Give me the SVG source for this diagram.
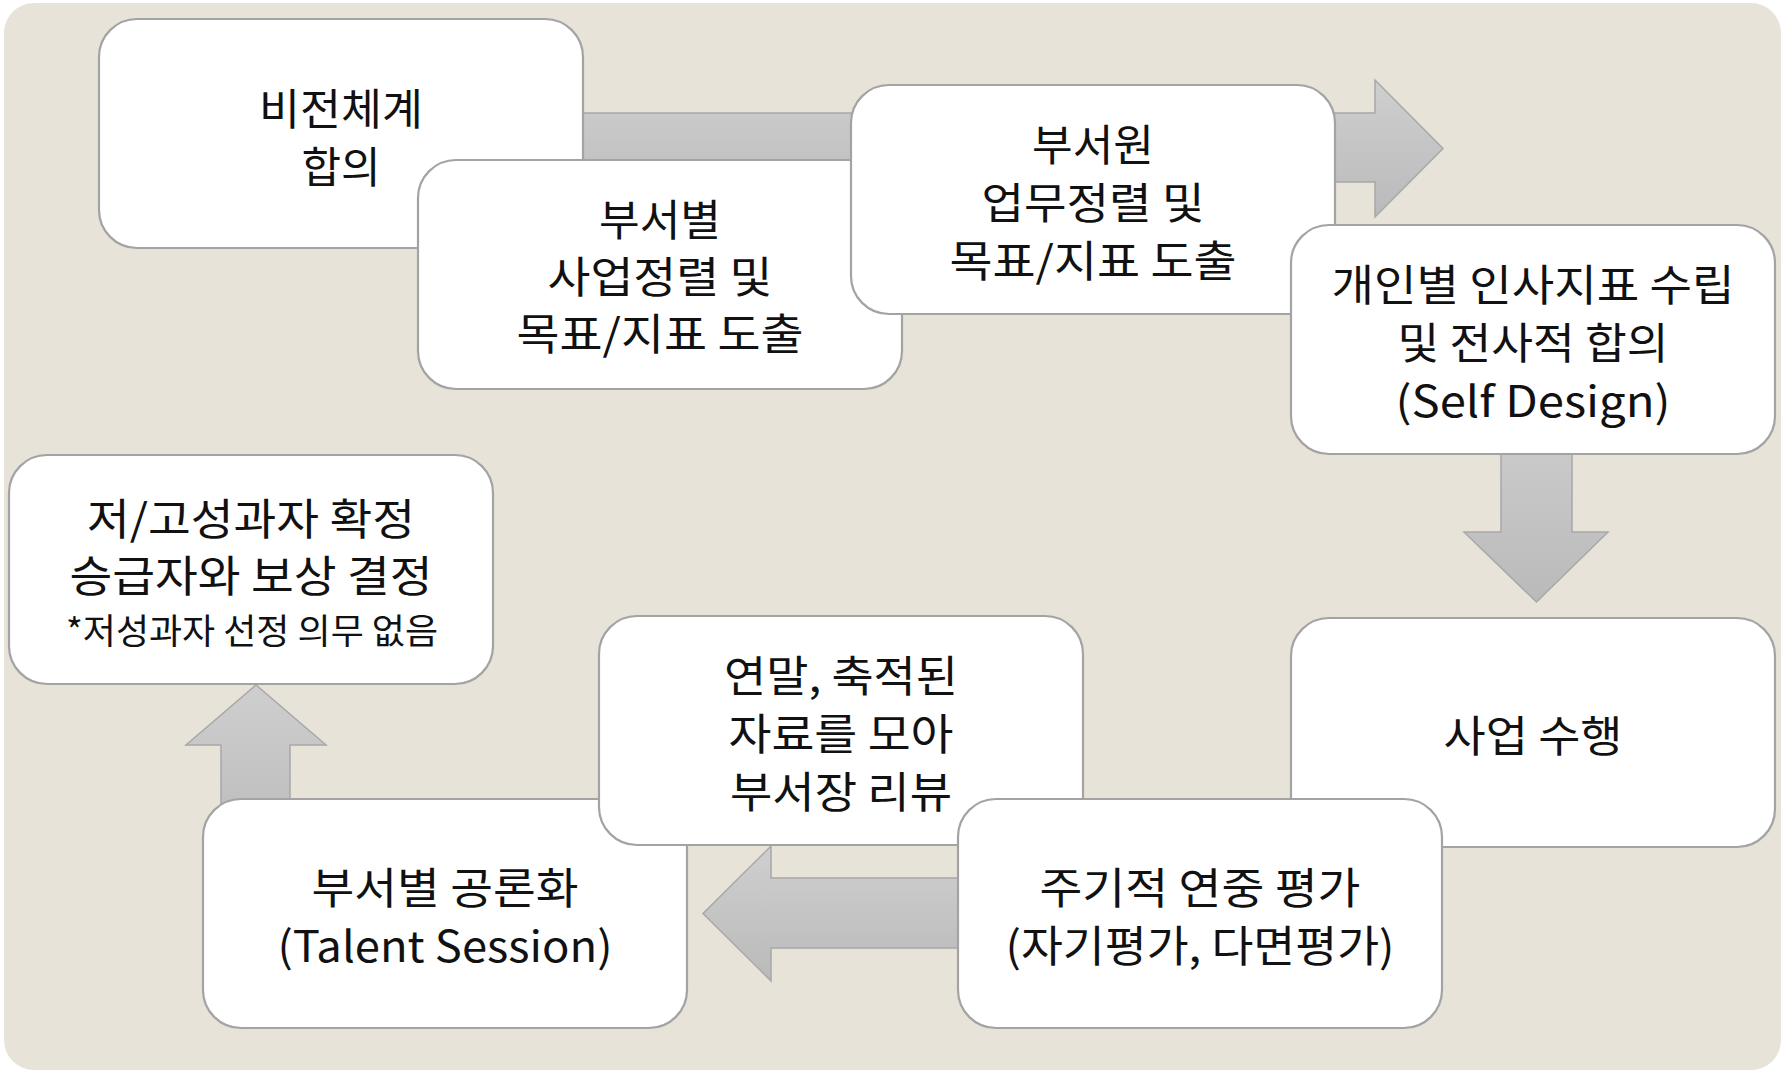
<svg xmlns="http://www.w3.org/2000/svg" width="1785" height="1071" viewBox="0 0 1785 1071">
<defs>
<linearGradient id="ag" x1="0" y1="0" x2="0" y2="1">
<stop offset="0" stop-color="#CFCFCF"/>
<stop offset="1" stop-color="#BABABA"/>
</linearGradient>
<style>
.bg{fill:#E7E3D8;}
.box{fill:#FFFFFF;stroke:#A3A3A3;stroke-width:2.2;}
.arr{fill:url(#ag);stroke:#A8A8A8;stroke-width:1.5;}
.t{font-family:"Noto Sans CJK KR","Noto Sans",sans-serif;font-size:43px;fill:#111111;text-anchor:middle;dominant-baseline:central;}
.s{font-size:35px;}
</style>
</defs>
<rect width="1785" height="1071" fill="#FFFFFF"/>
<rect class="bg" x="4" y="3" width="1777" height="1067" rx="30"/>
<g id="connectors">
<polygon class="arr" points="400,113 1375,113 1375,80 1443,148.5 1375,217 1375,182 400,182"/>
<polygon class="arr" points="1501,400 1572,400 1572,532 1608,532 1536.5,602 1464,532 1501,532"/>
<polygon class="arr" points="1000,878 771,878 771,846 703,913.5 771,981 771,948 1000,948"/>
<polygon class="arr" points="221,850 221,745 186,745 256,685 326,745 290,745 290,850"/>
</g>
<g id="n1">
<rect class="box" x="99" y="19" width="484" height="229" rx="38"/>
<text class="t" x="341" y="106" textLength="164" lengthAdjust="spacingAndGlyphs">비전체계</text>
<text class="t" x="341" y="164">합의</text>
</g>
<g id="n2">
<rect class="box" x="418" y="160" width="484" height="229" rx="38"/>
<text class="t" x="660" y="217" textLength="122" lengthAdjust="spacingAndGlyphs">부서별</text>
<text class="t" x="660" y="274" textLength="225" lengthAdjust="spacingAndGlyphs">사업정렬 및</text>
<text class="t" x="660" y="331" textLength="287" lengthAdjust="spacingAndGlyphs">목표/지표 도출</text>
</g>
<g id="n3">
<rect class="box" x="851" y="85" width="484" height="229" rx="38"/>
<text class="t" x="1093" y="142" textLength="122" lengthAdjust="spacingAndGlyphs">부서원</text>
<text class="t" x="1093" y="200" textLength="223" lengthAdjust="spacingAndGlyphs">업무정렬 및</text>
<text class="t" x="1093" y="258" textLength="287" lengthAdjust="spacingAndGlyphs">목표/지표 도출</text>
</g>
<g id="n4">
<rect class="box" x="1291" y="225" width="484" height="229" rx="38"/>
<text class="t" x="1533" y="282" textLength="403" lengthAdjust="spacingAndGlyphs">개인별 인사지표 수립</text>
<text class="t" x="1533" y="340" textLength="271" lengthAdjust="spacingAndGlyphs">및 전사적 합의</text>
<text class="t" x="1533" y="398" textLength="275" lengthAdjust="spacingAndGlyphs">(Self Design)</text>
</g>
<g id="n5">
<rect class="box" x="1291" y="618" width="484" height="229" rx="38"/>
<text class="t" x="1533" y="733" textLength="179" lengthAdjust="spacingAndGlyphs">사업 수행</text>
</g>
<g id="n8">
<rect class="box" x="203" y="799" width="484" height="229" rx="38"/>
<text class="t" x="445" y="885" textLength="267" lengthAdjust="spacingAndGlyphs">부서별 공론화</text>
<text class="t" x="445" y="943" textLength="335" lengthAdjust="spacingAndGlyphs">(Talent Session)</text>
</g>
<g id="n7">
<rect class="box" x="599" y="616" width="484" height="229" rx="38"/>
<text class="t" x="841" y="673" textLength="234" lengthAdjust="spacingAndGlyphs">연말, 축적된</text>
<text class="t" x="841" y="731" textLength="225" lengthAdjust="spacingAndGlyphs">자료를 모아</text>
<text class="t" x="841" y="789" textLength="222" lengthAdjust="spacingAndGlyphs">부서장 리뷰</text>
</g>
<g id="n6">
<rect class="box" x="958" y="799" width="484" height="229" rx="38"/>
<text class="t" x="1200" y="885" textLength="321" lengthAdjust="spacingAndGlyphs">주기적 연중 평가</text>
<text class="t" x="1200" y="943" textLength="389" lengthAdjust="spacingAndGlyphs">(자기평가, 다면평가)</text>
</g>
<g id="n9">
<rect class="box" x="9" y="455" width="484" height="229" rx="38"/>
<text class="t" x="251" y="516" textLength="328" lengthAdjust="spacingAndGlyphs">저/고성과자 확정</text>
<text class="t" x="251" y="573" textLength="363" lengthAdjust="spacingAndGlyphs">승급자와 보상 결정</text>
<text class="t s" x="252" y="628" textLength="372" lengthAdjust="spacingAndGlyphs">*저성과자 선정 의무 없음</text>
</g>
</svg>
